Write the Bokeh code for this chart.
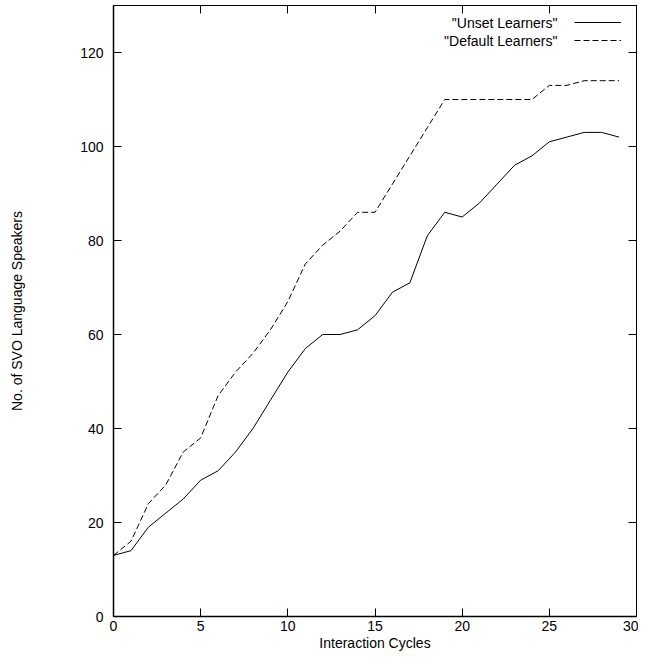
from bokeh.plotting import figure
from bokeh.models import (Range1d, FixedTicker, LinearAxis, Legend, LegendItem, Label)
from bokeh.embed import file_html
from bokeh.resources import INLINE

cycles = list(range(30))
unset = [13, 14, 19, 22, 25, 29, 31, 35, 40, 46, 52, 57, 60, 60, 61, 64, 69, 71, 81, 86,
         85, 88, 92, 96, 98, 101, 102, 103, 103, 102]
default = [13, 16, 24, 28, 35, 38, 47, 52, 56, 61, 67, 75, 79, 82, 86, 86, 92, 98, 104, 110,
           110, 110, 110, 110, 110, 113, 113, 114, 114, 114]
series_names = ['"Unset Learners"', '"Default Learners"']
x_ticks = [0, 5, 10, 15, 20, 25, 30]
y_ticks = [0, 20, 40, 60, 80, 100, 120]

FONT = "Liberation Sans"
W, H = 638, 654
BL, BR, BT, BB = 113, 2, 5, 38
FW, FH = W - BL - BR, H - BT - BB

p = figure(width=W, height=H, output_backend="svg", toolbar_location=None,
           x_range=Range1d(0, 30), y_range=Range1d(0, 130),
           min_border_left=BL, min_border_right=BR, min_border_top=BT, min_border_bottom=BB,
           x_axis_label="Interaction Cycles", y_axis_label="No. of SVO Language Speakers")
p.grid.visible = False
p.outline_line_color = "black"
p.outline_line_width = 1
p.background_fill_color = "white"

for ax, ticks in ((p.xaxis[0], x_ticks), (p.yaxis[0], y_ticks)):
    ax.ticker = FixedTicker(ticks=ticks)
    ax.major_tick_in = 8
    ax.major_tick_out = 0
    ax.minor_tick_line_color = None
    ax.axis_line_color = "black"
    ax.axis_line_width = 1.5
    ax.major_tick_line_color = "black"
    ax.major_label_text_font = FONT
    ax.major_label_text_font_size = "14px"
    ax.major_label_text_color = "black"
    ax.axis_label_text_font = FONT
    ax.axis_label_text_font_size = "14px"
    ax.axis_label_text_font_style = "normal"
    ax.axis_label_text_color = "black"

p.yaxis[0].major_label_standoff = 10
p.yaxis[0].axis_label_standoff = 52
p.xaxis[0].major_label_standoff = 4
p.xaxis[0].axis_label_standoff = 1

for loc, ticks in (("above", x_ticks), ("right", y_ticks)):
    ax = LinearAxis(ticker=FixedTicker(ticks=ticks))
    ax.major_tick_in = 8
    ax.major_tick_out = 0
    ax.minor_tick_line_color = None
    ax.major_label_text_color = None
    ax.major_label_standoff = 0
    ax.axis_line_color = "black"
    ax.major_tick_line_color = "black"
    p.add_layout(ax, loc)

r1 = p.line(cycles, unset, line_color="black", line_width=1)
r2 = p.line(cycles, default, line_color="black", line_width=1, line_dash="6 3")

legend = Legend(items=[LegendItem(label=" ", renderers=[r1]),
                       LegendItem(label=" ", renderers=[r2])],
                location=(FW - 62, FH - 44), glyph_width=47, glyph_height=18, spacing=0,
                padding=0, margin=0, label_standoff=0, label_width=0, label_height=18,
                label_text_color=None, border_line_color=None,
                background_fill_alpha=0)
p.add_layout(legend)

for i, name in enumerate(series_names):
    p.add_layout(Label(x=FW - 79, y=FH - 17 - 18 * i, x_units="screen", y_units="screen",
                       text=name, text_align="right", text_baseline="middle",
                       text_font=FONT, text_font_size="14px", text_color="black"))

open("out.html", "w").write(file_html(p, INLINE))
